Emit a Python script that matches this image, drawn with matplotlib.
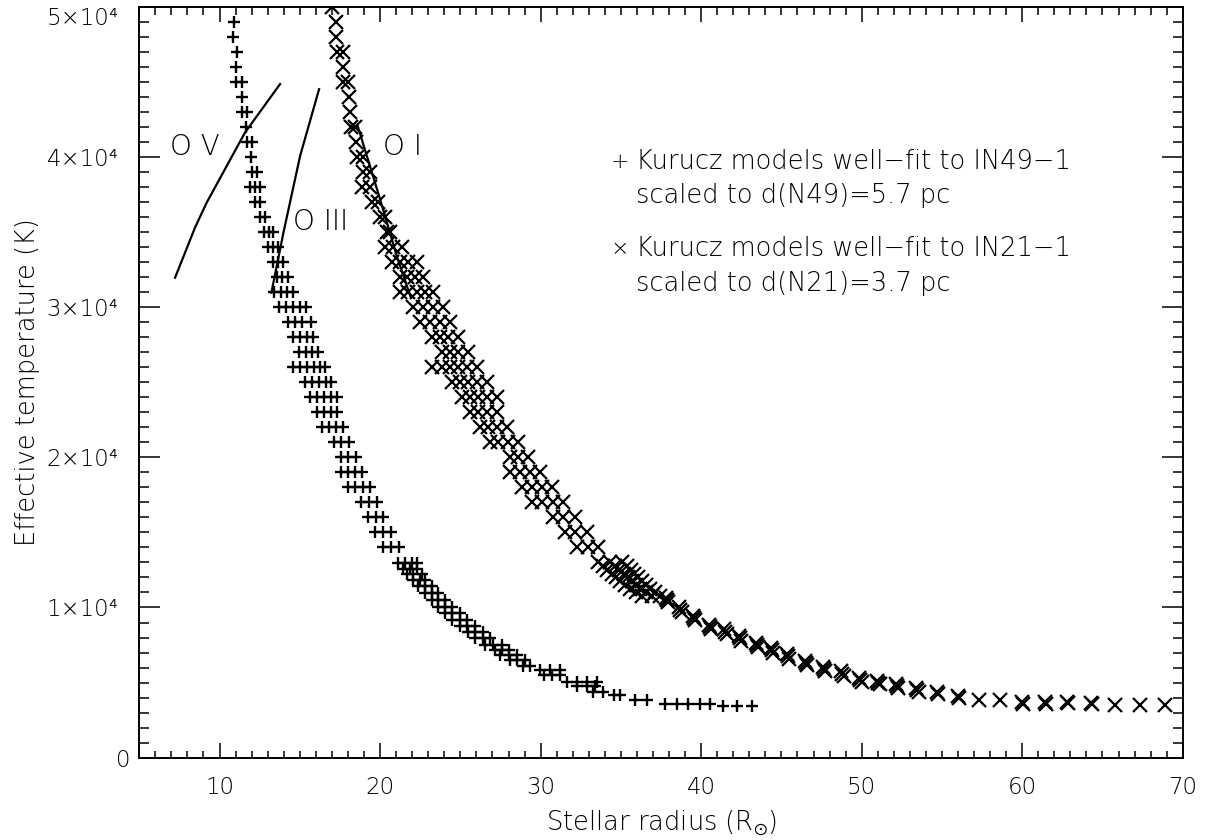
import numpy as np
import matplotlib.pyplot as plt
from matplotlib.ticker import MultipleLocator, FixedLocator, FixedFormatter
from matplotlib.transforms import ScaledTranslation

plt.rcParams['font.family'] = ['DejaVu Sans']
plt.rcParams['font.weight'] = 'light'
plt.rcParams['axes.labelweight'] = 'light'
plt.rcParams['mathtext.fontset'] = 'dejavusans'

# N49 fits (+), one line per temperature level
n49_teff = ([49000] + [48000] + [47000] + [46000] + [45000] * 2 + [44000] + [43000] * 2 + [42000]
            + [41000] * 2 + [40000] + [39000] * 2 + [38000] * 3 + [37000] * 2 + [36000] * 2
            + [35000] * 3 + [34000] * 3 + [33000] * 3 + [32000] * 3 + [31000] * 4 + [30000] * 5
            + [29000] * 4 + [28000] * 4 + [27000] * 4 + [26000] * 6 + [25000] * 5 + [24000] * 5
            + [23000] * 4 + [22000] * 4 + [21000] * 3 + [20000] * 3 + [19000] * 4 + [18000] * 4
            + [17000] * 3 + [16000] * 3 + [15000] * 3 + [14000] * 3 + [12960] * 4 + [12550] * 3
            + [12200] * 3 + [11800] * 3 + [11400] * 3 + [10950] * 3 + [10500] * 3 + [10050] * 3
            + [9600] * 3 + [9200] * 3 + [8800] * 3 + [8350] * 3 + [7950] * 3 + [7500] * 3
            + [7200] * 3 + [6850] * 3 + [6500] * 3 + [6100] * 2 + [5850] * 3 + [5500] * 3
            + [5050] * 4 + [4750] * 3 + [4400] * 2 + [4200] * 2 + [3850] * 2 + [3550] * 5 + [3450] * 3)
n49_radius = [
    10.92, 10.86, 11.09, 11.05, 11.03, 11.38, 11.38, 11.38, 11.69, 11.63,
    11.69, 12.00, 11.96, 12.04, 12.32, 11.90, 12.20, 12.52, 12.20, 12.50, 12.52, 12.83,
    12.80, 13.10, 13.35, 13.04, 13.35, 13.66, 13.35, 13.66, 13.98, 13.56, 13.87, 14.29,
    13.40, 13.80, 14.20, 14.60,
    13.71, 14.14, 14.58, 15.02, 15.39,
    14.27, 14.70, 15.14, 15.70,
    14.58, 15.02, 15.45, 15.83,
    14.95, 15.39, 15.76, 16.14,
    14.58, 15.02, 15.45, 15.89, 16.26, 16.57,
    15.33, 15.76, 16.20, 16.64, 16.95,
    15.64, 16.07, 16.51, 16.95, 17.32,
    16.07, 16.51, 16.95, 17.32,
    16.39, 16.82, 17.26, 17.69,
    17.13, 17.57, 18.07,
    17.57, 18.01, 18.50,
    17.57, 18.01, 18.44, 18.88,
    18.01, 18.44, 18.94, 19.38,
    18.82, 19.31, 19.81,
    19.25, 19.75, 20.19,
    19.69, 20.19, 20.69,
    20.19, 20.69, 21.18,
    21.14, 21.56, 21.97, 22.28,
    21.45, 21.87, 22.33,
    21.66, 22.08, 22.60,
    22.08, 22.49, 22.80,
    22.39, 22.80, 23.22,
    22.80, 23.22, 23.63,
    23.22, 23.63, 24.05,
    23.63, 24.05, 24.47,
    24.05, 24.47, 24.98,
    24.47, 24.98, 25.44,
    24.98, 25.44, 25.92,
    25.50, 25.92, 26.44,
    25.92, 26.40, 26.85,
    26.54, 27.06, 27.58,
    27.17, 27.58, 28.00,
    27.48, 28.00, 28.52,
    28.10, 28.52, 29.03,
    28.93, 29.35,
    29.97, 30.59, 31.21,
    30.18, 30.70, 31.21,
    31.63, 32.25, 32.88, 33.50,
    32.25, 32.88, 33.40,
    33.29, 33.90,
    34.54, 34.95,
    35.89, 36.61,
    37.76, 38.48, 39.21, 39.94, 40.56,
    41.39, 42.22, 43.16,
]

# N21 fits (x)
n21_teff = ([50000] + [49000] + [48000] + [47000] * 2 + [46000] + [45000] * 2 + [44000] + [43000]
            + [42000] * 2 + [41000] + [40000] * 2 + [39000] * 2 + [38000] * 2 + [37000] * 2
            + [36000] * 2 + [35000] * 2 + [34000] * 3 + [33000] * 4 + [32000] * 4 + [31000] * 5
            + [30000] * 4 + [29000] * 4 + [28000] * 4 + [27000] * 4 + [26000] * 6 + [25000] * 5
            + [24000] * 5 + [23000] * 4 + [22000] * 4 + [21000] * 4 + [20000] * 3 + [19000] * 4
            + [18000] * 4 + [17000] * 4 + [16000] * 3 + [15000] * 3 + [14000] * 3
            + [13000] * 3 + [12750] * 3 + [12500] * 3 + [12250] * 3 + [12000] * 3 + [11750] * 3
            + [11500] * 3 + [11250] * 3 + [11000] * 3 + [10750] * 3
            + [10650, 10500, 10350] + [10000, 9850, 9700] + [9450, 9300, 9150] + [8850, 8700, 8550]
            + [8550, 8400, 8250] + [8100, 7950, 7800] + [7650, 7500, 7350] + [7300, 7150, 7000]
            + [6900, 6750, 6600] + [6450, 6300, 6150] + [6050, 5900, 5750] + [5750, 5600, 5450]
            + [5300, 5180, 5050] + [5100, 5000, 4900] + [4900, 4780, 4650] + [4630, 4510, 4400]
            + [4350, 4250] + [4100, 4000] + [3850] + [3850] + [3700, 3580] + [3700, 3580]
            + [3720, 3630] + [3650, 3580] + [3500] + [3500] + [3500])
n21_radius = [
    16.99, 17.26, 17.26, 17.30, 17.68, 17.68, 17.72, 18.03, 18.09, 18.13,
    18.17, 18.44, 18.50, 18.59, 18.92, 18.96, 19.38, 18.90, 19.38, 19.48, 19.90,
    20.00, 20.30, 20.42, 20.62, 20.31, 20.83, 21.35,
    20.73, 21.25, 21.76, 22.29,
    21.25, 21.66, 22.18, 22.70,
    21.25, 21.76, 22.29, 22.80, 23.32,
    22.06, 22.68, 23.30, 23.93,
    22.49, 23.12, 23.74, 24.36,
    23.24, 23.74, 24.24, 24.86,
    23.86, 24.36, 24.86, 25.48,
    23.24, 23.86, 24.36, 24.86, 25.42, 26.04,
    24.49, 24.98, 25.48, 26.04, 26.67,
    25.11, 25.61, 26.11, 26.67, 27.29,
    25.61, 26.11, 26.67, 27.29,
    26.23, 26.73, 27.29, 27.91,
    26.85, 27.35, 27.98, 28.60,
    28.10, 28.60, 29.22,
    28.10, 28.72, 29.35, 29.97,
    28.85, 29.47, 30.09, 30.72,
    29.47, 30.09, 30.78, 31.40,
    30.78, 31.40, 32.15,
    31.53, 32.15, 32.90,
    32.27, 32.96, 33.58,
    33.58, 34.33, 35.08,
    33.90, 34.64, 35.39,
    34.14, 34.89, 35.64,
    34.46, 35.20, 35.83,
    34.70, 35.45, 36.08,
    34.95, 35.70, 36.32,
    35.27, 35.95, 36.57,
    35.58, 36.20, 36.82,
    35.95, 36.57, 37.13,
    36.32, 36.95, 37.45,
    37.80, 37.88, 37.95, 38.60, 38.69, 38.78, 39.48, 39.56, 39.64, 40.48, 40.56, 40.64,
    41.42, 41.50, 41.58, 42.35, 42.43, 42.51, 43.41, 43.49, 43.57, 44.34, 44.42, 44.50,
    45.34, 45.42, 45.50, 46.46, 46.54, 46.62, 47.58, 47.66, 47.74, 48.71, 48.79, 48.87,
    49.83, 49.91, 49.99, 50.95, 51.03, 51.11, 52.13, 52.21, 52.29, 53.38, 53.46, 53.54,
    54.66, 54.74, 55.97, 56.05, 57.32, 58.63, 59.96, 60.04, 61.39, 61.47,
    62.76, 62.84, 64.26, 64.34, 65.79, 67.35, 68.91,
]

# O-star calibrations: dwarfs, giants, supergiants
ov_radius = [7.23, 8.47, 9.20, 11.59, 13.77]
ov_teff = [31960, 35290, 36960, 41630, 44850]
oiii_radius = [13.23, 13.98, 15.02, 16.20]
oiii_teff = [30960, 34960, 40070, 44510]
oi_radius = [18.60, 20.00, 21.04, 21.90]
oi_teff = [42080, 37180, 33400, 30680]

ytick_values = [0, 10000, 20000, 30000, 40000, 50000]
ytick_labels = ['0', '1×10⁴', '2×10⁴', '3×10⁴', '4×10⁴', '5×10⁴']

fig = plt.figure(figsize=(12.09, 8.4), dpi=100)
ax = fig.add_axes([0.1152, 0.0980, 0.8631, 0.894])

ax.plot(n49_radius, n49_teff, ls='none', marker='+', ms=8.2, mew=1.7, color='k')
ax.plot(n21_radius, n21_teff, ls='none', marker='x', ms=9.5, mew=1.6, color='k')
ax.plot(ov_radius, ov_teff, color='k', lw=1.6)
ax.plot(oiii_radius, oiii_teff, color='k', lw=1.6)
ax.plot(oi_radius, oi_teff, color='k', lw=1.6)

ax.text(6.92, 40650, 'O V', fontsize=20, ha='left', va='center')
ax.text(14.58, 35650, 'O III', fontsize=20, ha='left', va='center')
ax.text(20.19, 40650, 'O I', fontsize=20, ha='left', va='center')

# legend block
lfs = 18.5
lx_sym, lx_txt = 0.4604, 0.4765
ax.text(lx_sym, 0.7935, '+', transform=ax.transAxes, fontsize=16, ha='center', va='center')
ax.text(lx_txt, 0.7935, 'Kurucz models well−fit to IN49−1', transform=ax.transAxes,
        fontsize=lfs, ha='left', va='center')
ax.text(lx_txt, 0.7485, 'scaled to d(N49)=5.7 pc', transform=ax.transAxes,
        fontsize=lfs, ha='left', va='center')
ax.text(lx_sym, 0.6775, '×', transform=ax.transAxes, fontsize=16, ha='center', va='center')
ax.text(lx_txt, 0.6775, 'Kurucz models well−fit to IN21−1', transform=ax.transAxes,
        fontsize=lfs, ha='left', va='center')
ax.text(lx_txt, 0.6320, 'scaled to d(N21)=3.7 pc', transform=ax.transAxes,
        fontsize=lfs, ha='left', va='center')

ax.set_xlim(5, 70)
ax.set_ylim(0, 50000)
ax.xaxis.set_major_locator(MultipleLocator(10))
ax.xaxis.set_minor_locator(MultipleLocator(1))
ax.yaxis.set_major_locator(FixedLocator(ytick_values))
ax.yaxis.set_major_formatter(FixedFormatter(ytick_labels))
ax.yaxis.set_minor_locator(MultipleLocator(1000))

for s in ax.spines.values():
    s.set_linewidth(1.4)
ax.tick_params(which='both', direction='in', top=True, right=True, width=1.1,
               labelsize=16.5, colors='k')
ax.tick_params(axis='x', which='major', length=10.8, pad=13)
ax.tick_params(axis='x', which='minor', length=5.4)
ax.tick_params(axis='y', which='major', length=15, pad=15)
ax.tick_params(axis='y', which='minor', length=7.5)

yticks = ax.yaxis.get_major_ticks()
yticks[0].set_pad(6.5)
# keep the top label inside the frame
top_lab = yticks[-1].label1
top_lab.set_transform(top_lab.get_transform() + ScaledTranslation(0, -0.09, fig.dpi_scale_trans))

ax.set_xlabel(r'Stellar radius (R$_{\odot}$)', fontsize=lfs, fontweight='light', labelpad=7)
ax.set_ylabel('Effective temperature (K)', fontsize=lfs, fontweight='light', labelpad=5)

fig.savefig('out.png', dpi=100)
